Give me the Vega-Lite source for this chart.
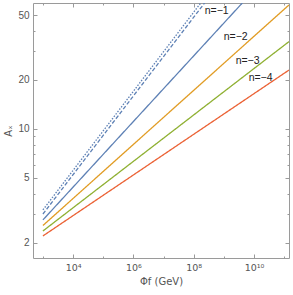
{
  "$schema": "https://vega.github.io/schema/vega-lite/v6.json",
  "width": 256,
  "height": 255,
  "autosize": "none",
  "padding": {"left": 33, "top": 3, "right": 4, "bottom": 37},
  "background": "white",
  "config": {
    "view": {"stroke": "#9a9a9a", "strokeWidth": 1},
    "font": "Liberation Sans",
    "axis": {
      "domain": false,
      "grid": false,
      "labelFont": "Liberation Sans",
      "labelFontSize": 10,
      "labelColor": "#555555",
      "tickColor": "#9a9a9a",
      "titleFont": "DejaVu Sans",
      "titleFontSize": 10,
      "titleFontWeight": "normal",
      "titleColor": "#555555"
    }
  },
  "datasets": {
    "lines": [
      {"series": "dotted", "x": 1000, "y": 3.18},
      {"series": "dotted", "x": 171000000, "y": 59.4},
      {"series": "dashed", "x": 1000, "y": 3.0},
      {"series": "dashed", "x": 230000000, "y": 59.4},
      {"series": "n=-1", "x": 1000, "y": 2.76},
      {"series": "n=-1", "x": 4100000000, "y": 59.4},
      {"series": "n=-2", "x": 1000, "y": 2.55},
      {"series": "n=-2", "x": 145000000000, "y": 57.8},
      {"series": "n=-3", "x": 1000, "y": 2.36},
      {"series": "n=-3", "x": 145000000000, "y": 34.4},
      {"series": "n=-4", "x": 1000, "y": 2.20},
      {"series": "n=-4", "x": 145000000000, "y": 23.0}
    ],
    "labels": [
      {"label": "n=−1", "x": 580000000, "y": 53.1},
      {"label": "n=−2", "x": 2470000000, "y": 36.7},
      {"label": "n=−3", "x": 6150000000, "y": 26.2},
      {"label": "n=−4", "x": 16600000000, "y": 20.6}
    ]
  },
  "layer": [
    {
      "data": {"name": "lines"},
      "mark": {"type": "line", "clip": true, "strokeWidth": 1.3},
      "encoding": {
        "x": {
          "field": "x", "type": "quantitative",
          "scale": {"type": "log", "domain": [468, 145000000000], "nice": false},
          "axis": {
            "orient": "bottom",
            "values": [1000, 10000, 100000, 1000000, 10000000, 100000000, 1000000000, 10000000000, 100000000000],
            "labelExpr": "datum.value == 10000 ? '10⁴' : datum.value == 1000000 ? '10⁶' : datum.value == 100000000 ? '10⁸' : datum.value == 10000000000 ? '10¹⁰' : ''",
            "labelFont": "DejaVu Sans",
            "labelFontSize": 9.5,
            "tickSize": {"condition": {"test": "datum.value == 10000 || datum.value == 1000000 || datum.value == 100000000 || datum.value == 10000000000", "value": -4}, "value": -2},
            "labelPadding": 8,
            "title": "Φf (GeV)",
            "titlePadding": 5
          }
        },
        "y": {
          "field": "y", "type": "quantitative",
          "scale": {"type": "log", "domain": [1.61, 59.4], "nice": false},
          "axis": {
            "orient": "left",
            "values": [2, 3, 4, 5, 6, 7, 8, 9, 10, 20, 30, 40, 50],
            "labelExpr": "(datum.value == 2 || datum.value == 5 || datum.value == 10 || datum.value == 20 || datum.value == 50) ? datum.value : ''",
            "tickSize": {"condition": {"test": "datum.value == 2 || datum.value == 5 || datum.value == 10 || datum.value == 20 || datum.value == 50", "value": -4}, "value": -2},
            "labelPadding": 8,
            "title": "Aₓ",
            "titlePadding": 4
          }
        },
        "detail": {"field": "series"},
        "color": {
          "field": "series", "type": "nominal",
          "scale": {"domain": ["dotted", "dashed", "n=-1", "n=-2", "n=-3", "n=-4"], "range": ["#5E81B5", "#5E81B5", "#5E81B5", "#E19C24", "#8FB032", "#EB6235"]},
          "legend": null
        },
        "strokeDash": {
          "field": "series", "type": "nominal",
          "scale": {"domain": ["dotted", "dashed", "n=-1", "n=-2", "n=-3", "n=-4"], "range": [[1.5, 1.5], [4, 2], [1, 0], [1, 0], [1, 0], [1, 0]]},
          "legend": null
        }
      }
    },
    {
      "data": {"name": "labels"},
      "mark": {"type": "text", "fontSize": 10.5, "font": "Liberation Sans", "color": "#222222"},
      "encoding": {
        "x": {
          "field": "x", "type": "quantitative",
          "axis": {
            "orient": "top",
            "values": [1000, 10000, 100000, 1000000, 10000000, 100000000, 1000000000, 10000000000, 100000000000],
            "labels": false,
            "title": null,
            "tickSize": {"condition": {"test": "datum.value == 10000 || datum.value == 1000000 || datum.value == 100000000 || datum.value == 10000000000", "value": -4}, "value": -2}
          }
        },
        "y": {
          "field": "y", "type": "quantitative",
          "axis": {
            "orient": "right",
            "values": [2, 3, 4, 5, 6, 7, 8, 9, 10, 20, 30, 40, 50],
            "labels": false,
            "title": null,
            "tickSize": {"condition": {"test": "datum.value == 2 || datum.value == 5 || datum.value == 10 || datum.value == 20 || datum.value == 50", "value": -4}, "value": -2}
          }
        },
        "text": {"field": "label"}
      }
    }
  ],
  "resolve": {"axis": {"x": "independent", "y": "independent"}}
}
